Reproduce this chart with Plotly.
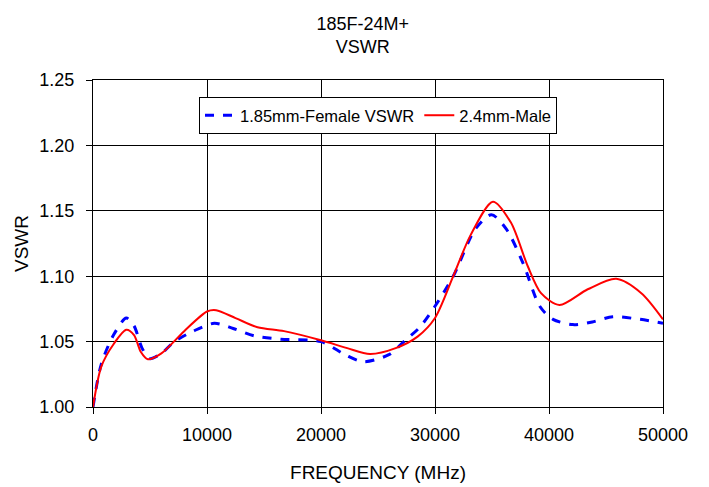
import plotly.graph_objects as go

freq_f = [0, 734, 1800, 2920, 3600, 4300, 4960, 6000, 7140, 8800, 10640, 12300, 14130, 16470,
          20000, 22150, 23750, 25950, 27400, 28670, 30000, 31600, 33540, 34950, 36260, 37720,
          39190, 40350, 42100, 43800, 45600, 48000, 50000]
vswr_f = [1.000, 1.033, 1.055, 1.068, 1.062, 1.045, 1.037, 1.041, 1.050, 1.058, 1.064, 1.060,
          1.0544, 1.0518, 1.050, 1.0398, 1.0346, 1.040, 1.051, 1.061, 1.077, 1.100, 1.136,
          1.147, 1.136, 1.110, 1.077, 1.067, 1.063, 1.065, 1.069, 1.067, 1.064]

freq_m = [0, 734, 1800, 2920, 3600, 4200, 4810, 6000, 8000, 10000, 10800, 12500, 14430, 16760,
          20000, 22300, 24300, 26550, 28500, 30000, 31600, 33100, 35080, 36660, 38120, 39300,
          40920, 43400, 45900, 48100, 50000]
vswr_m = [1.000, 1.031, 1.048, 1.059, 1.055, 1.042, 1.0365, 1.041, 1.058, 1.073, 1.074, 1.068,
          1.061, 1.058, 1.051, 1.045, 1.0405, 1.045, 1.054, 1.068, 1.100, 1.131, 1.157, 1.141,
          1.108, 1.087, 1.078, 1.090, 1.098, 1.087, 1.067]

fig = go.Figure()
fig.add_trace(go.Scatter(x=freq_f, y=vswr_f, mode="lines", name="1.85mm-Female VSWR",
                         line=dict(color="#0000FF", width=3, dash="dash", shape="spline", smoothing=0.8)))
fig.add_trace(go.Scatter(x=freq_m, y=vswr_m, mode="lines", name="2.4mm-Male",
                         line=dict(color="#FF0000", width=2, shape="spline", smoothing=0.8)))

fig.update_layout(
    width=701, height=479,
    margin=dict(l=85, r=46, t=72, b=80, autoexpand=False),
    paper_bgcolor="white", plot_bgcolor="white",
    font=dict(family="Liberation Sans, Arial, sans-serif", size=16, color="black"),
    title=dict(text="185F-24M+<br>VSWR", x=0.506, xanchor="center", y=0.955, yanchor="top",
               font=dict(size=18)),
    legend=dict(orientation="h", x=0.5, xanchor="center", y=0.948, yanchor="top",
                bgcolor="white", bordercolor="black", borderwidth=1,
                font=dict(size=16.5), itemwidth=30, tracegroupgap=0),
    xaxis=dict(range=[0, 50000], dtick=10000, tickformat="d", showgrid=True, gridcolor="black",
               gridwidth=1, showline=True, linecolor="black", linewidth=1, mirror=True,
               zeroline=False, ticks="outside", ticklen=6, tickcolor="black",
               ticklabelstandoff=5, automargin=False, tickfont=dict(size=18),
               title=dict(text="FREQUENCY (MHz)", standoff=22, font=dict(size=19))),
    yaxis=dict(range=[1.0, 1.25], dtick=0.05, tickformat=".2f", showgrid=True, gridcolor="black",
               gridwidth=1, showline=True, linecolor="black", linewidth=1, mirror=True,
               zeroline=False, ticks="outside", ticklen=6, tickcolor="black", automargin=False,
               ticklabelstandoff=8, tickfont=dict(size=18),
               title=dict(text="VSWR", standoff=5, font=dict(size=19))),
)

fig.write_html("out.html")
